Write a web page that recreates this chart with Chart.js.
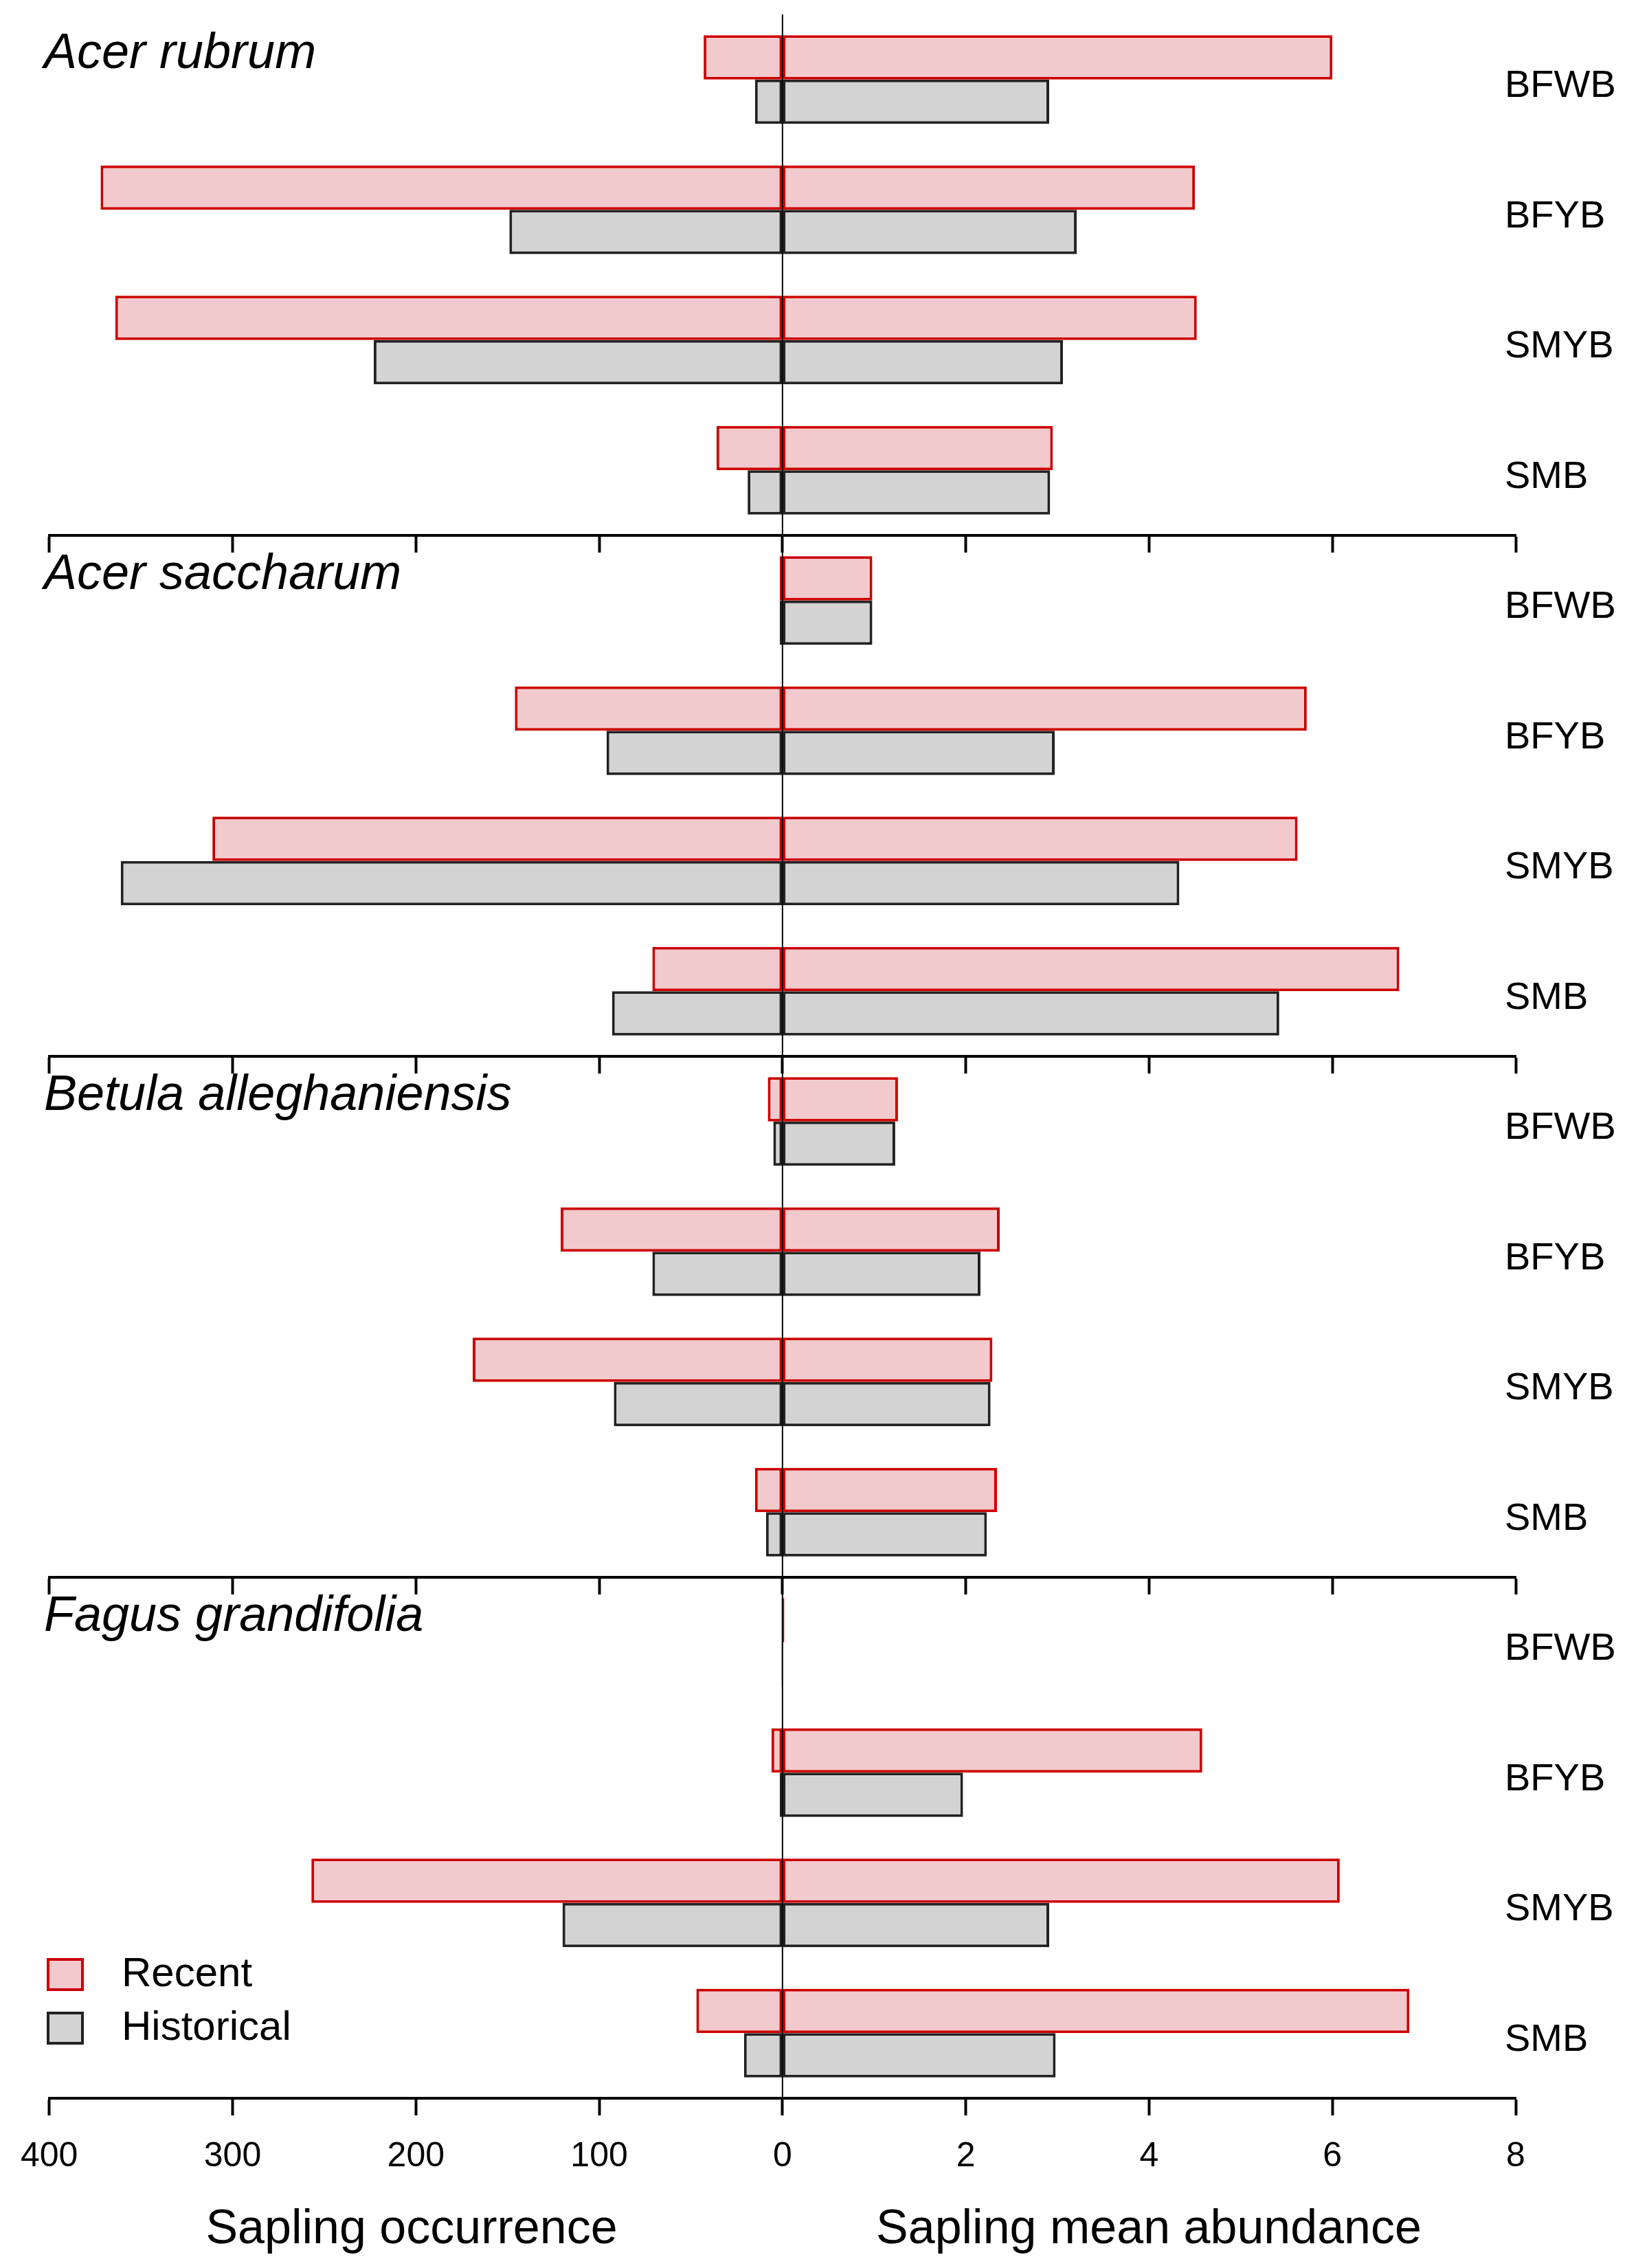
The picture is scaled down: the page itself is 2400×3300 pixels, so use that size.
<!DOCTYPE html>
<html>
<head>
<meta charset="utf-8">
<script src="https://cdn.jsdelivr.net/npm/chart.js@4.4.1/dist/chart.umd.min.js"></script>
<style>
  body { margin:0; background:#fff; width:2400px; height:3300px; position:relative; font-family:"Liberation Sans", Arial, sans-serif; overflow:hidden; }
  canvas { position:absolute; left:0; }
  .title { position:absolute; top:3200px; font-size:70px; color:#000; transform:translateX(-50%); white-space:nowrap; }
</style>
</head>
<body>
<canvas id="c0" width="2400" height="880" style="top:21px"></canvas>
<canvas id="c1" width="2400" height="880" style="top:779px"></canvas>
<canvas id="c2" width="2400" height="880" style="top:1537px"></canvas>
<canvas id="c3" width="2400" height="880" style="top:2295px"></canvas>
<div class="title" style="left:599px">Sapling occurrence</div>
<div class="title" style="left:1672px">Sapling mean abundance</div>
<script>
// 区分・樹種
const sites   = ['BFWB', 'BFYB', 'SMYB', 'SMB'];
const species = ['Acer rubrum', 'Acer saccharum', 'Betula alleghaniensis', 'Fagus grandifolia'];

// 出現数（左側） recent / historical
const occRecent = [
  [43, 372, 364, 36],
  [1.5, 146, 311, 71],
  [8, 121, 169, 15],
  [0.5, 6, 257, 47]
];
const occHist = [
  [15, 149, 223, 19],
  [1.5, 96, 361, 93],
  [5, 71, 92, 9],
  [0.5, 1.5, 120, 21]
];
// 平均個体数（右側） recent / historical
const abRecent = [
  [6.0, 4.5, 4.52, 2.95],
  [0.98, 5.72, 5.62, 6.73],
  [1.26, 2.37, 2.29, 2.34],
  [0.02, 4.58, 6.08, 6.84]
];
const abHist = [
  [2.91, 3.21, 3.06, 2.92],
  [0.98, 2.97, 4.33, 5.42],
  [1.23, 2.16, 2.27, 2.23],
  [0, 1.97, 2.91, 2.98]
];
const OCC_SCALE = 50; // 左軸 400 → 右軸 8

const RED_FILL = '#f2cacd', RED_LINE = '#cc0000';
const GRAY_FILL = '#d3d3d3', GRAY_LINE = '#222222';

const overlay = {
  id: 'overlay',
  afterDatasetsDraw(chart, args, opts) {
    const { ctx, chartArea, scales } = chart;
    const x0 = scales.x.getPixelForValue(0);
    ctx.save();
    ctx.strokeStyle = '#000';
    ctx.lineWidth = 2;
    ctx.beginPath();
    ctx.moveTo(x0, 0);
    ctx.lineTo(x0, chartArea.bottom);
    ctx.stroke();

    ctx.fillStyle = '#000';
    ctx.textBaseline = 'middle';
    ctx.font = 'italic 72px "Liberation Sans", Arial, sans-serif';
    ctx.fillText(opts.name, 64, 58);

    ctx.font = '56px "Liberation Sans", Arial, sans-serif';
    sites.forEach((s, i) => {
      ctx.fillText(s, 2190, scales.y.getPixelForValue(i) + 10);
    });

    if (opts.legend) {
      const items = [['Recent', RED_FILL, RED_LINE], ['Historical', GRAY_FILL, GRAY_LINE]];
      ctx.font = '60px "Liberation Sans", Arial, sans-serif';
      items.forEach(([t, f, l], i) => {
        const y = 578 + i * 78;
        ctx.fillStyle = f;
        ctx.fillRect(70, y - 22, 50, 44);
        ctx.strokeStyle = l;
        ctx.lineWidth = 4;
        ctx.strokeRect(70, y - 22, 50, 44);
        ctx.fillStyle = '#000';
        ctx.fillText(t, 177, y);
      });
    }
    ctx.restore();
  }
};

function bar(label, data, stack, fill, line) {
  return {
    label, data, stack,
    backgroundColor: fill, borderColor: line, borderWidth: 4, borderSkipped: false,
    categoryPercentage: 0.68, barPercentage: 1.0
  };
}

species.forEach((name, p) => {
  const last = p === species.length - 1;
  new Chart(document.getElementById('c' + p), {
    type: 'bar',
    data: {
      labels: sites,
      datasets: [
        bar('RecentL', occRecent[p].map(v => -v / OCC_SCALE), 'r', RED_FILL, RED_LINE),
        bar('RecentR', abRecent[p], 'r', RED_FILL, RED_LINE),
        bar('HistL', occHist[p].map(v => -v / OCC_SCALE), 'h', GRAY_FILL, GRAY_LINE),
        bar('HistR', abHist[p], 'h', GRAY_FILL, GRAY_LINE)
      ]
    },
    options: {
      indexAxis: 'y',
      responsive: false,
      animation: false,
      devicePixelRatio: 1,
      layout: { padding: { left: 64, right: 194, top: 0, bottom: 0 } },
      plugins: { legend: { display: false }, tooltip: { enabled: false }, overlay: { name, legend: last } },
      scales: {
        x: {
          stacked: true, min: -8, max: 8,
          afterFit: s => { s.height = 122; },
          border: { color: '#000', width: 4 },
          grid: { drawOnChartArea: false, drawTicks: true, tickLength: 25, tickWidth: 4, color: '#000' },
          ticks: {
            stepSize: 2, padding: 30,
            color: last ? '#000' : 'rgba(0,0,0,0)',
            font: { size: 50, family: '"Liberation Sans", Arial, sans-serif' },
            callback: v => v < 0 ? String(-v * OCC_SCALE) : String(v)
          }
        },
        y: { stacked: true, display: false, offset: true }
      }
    },
    plugins: [overlay]
  });
});
</script>
</body>
</html>
